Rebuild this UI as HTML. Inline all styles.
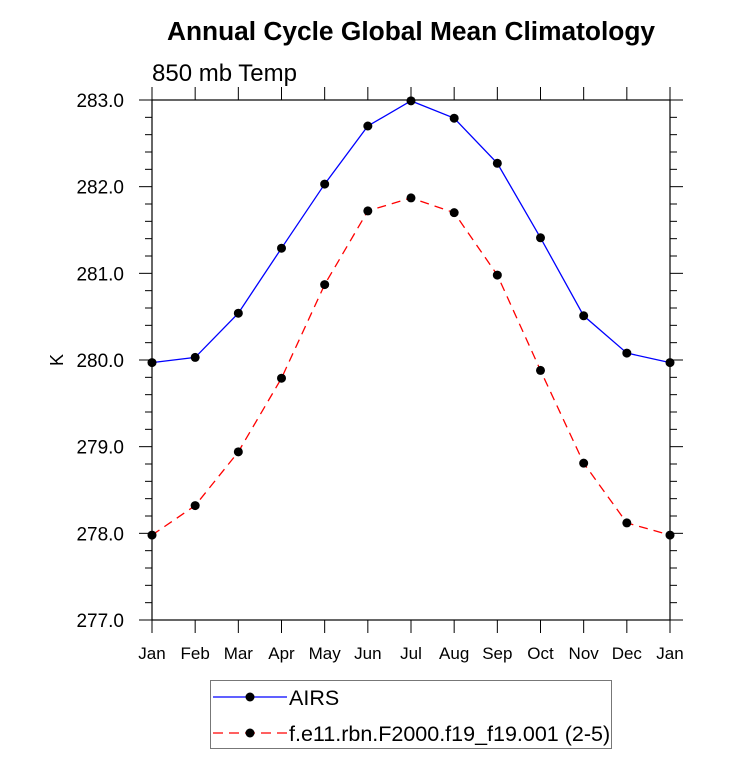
<!DOCTYPE html>
<html><head><meta charset="utf-8"><style>
body{margin:0;background:#fff;}
svg{display:block;font-family:"Liberation Sans",Arial,sans-serif;}
</style></head><body>
<svg id="chart" width="733" height="770">
<text x="411" y="40" font-size="26.3" font-weight="bold" text-anchor="middle">Annual Cycle Global Mean Climatology</text>
<text x="152" y="81" font-size="24">850 mb Temp</text>
<text transform="translate(63,360) rotate(-90)" font-size="18" text-anchor="middle">K</text>
<g id="axes"></g>
<g id="series"></g>
<g>
<rect x="210.5" y="680.5" width="401" height="68" fill="none" stroke="#777"/>
<g>
<line x1="213" y1="697" x2="287" y2="697" stroke="#0000ff" stroke-width="1.3"/>
<circle cx="250" cy="697" r="4.5" fill="#000"/>
<text x="289" y="705" font-size="21.5">AIRS</text></g>
<g>
<line x1="213" y1="733" x2="287" y2="733" stroke="#ff0000" stroke-width="1.3" stroke-dasharray="10,6"/>
<circle cx="250" cy="733" r="4.5" fill="#000"/>
<text x="289" y="741" font-size="21.5">f.e11.rbn.F2000.f19_f19.001 (2-5)</text></g>
</g>
</svg>
<script>
const months=["Jan","Feb","Mar","Apr","May","Jun","Jul","Aug","Sep","Oct","Nov","Dec","Jan"];
const airs=[279.97,280.03,280.54,281.29,282.03,282.70,282.99,282.79,282.27,281.41,280.51,280.08,279.97];
const model=[277.98,278.32,278.94,279.79,280.87,281.72,281.87,281.70,280.98,279.88,278.81,278.12,277.98];
const yTicks=["277.0","278.0","279.0","280.0","281.0","282.0","283.0"];
const X0=152,X1=670,Y0=620,Y1=100,YMIN=277,YMAX=283;
const xs=i=>X0+(X1-X0)*i/(months.length-1);
const ys=v=>Y0-(v-YMIN)/(YMAX-YMIN)*(Y0-Y1);
const NS="http://www.w3.org/2000/svg";
function mk(tag,attrs,parent){const e=document.createElementNS(NS,tag);for(const k in attrs)e.setAttribute(k,attrs[k]);parent.appendChild(e);return e;}
const ax=document.getElementById('axes');
const frame=mk('rect',{x:X0,y:Y1,width:X1-X0,height:Y0-Y1,fill:'none',stroke:'#000','stroke-width':1.2},ax);


for(let i=0;i<months.length;i++){
  const x=xs(i);
  mk('line',{x1:x,y1:Y0,x2:x,y2:Y0+13,stroke:'#000'},ax);
  mk('line',{x1:x,y1:Y1,x2:x,y2:Y1-13,stroke:'#000'},ax);
  const t=mk('text',{x:x,y:Y0+39,'font-size':17,'text-anchor':'middle'},ax);
  t.textContent=months[i];
  
  
}
for(let v=YMIN;v<=YMAX+1e-6;v+=0.2){
  const y=ys(v);const major=Math.abs(v-Math.round(v))<1e-6;const L=major?13:7;
  mk('line',{x1:X0,y1:y,x2:X0-L,y2:y,stroke:'#000'},ax);
  mk('line',{x1:X1,y1:y,x2:X1+L,y2:y,stroke:'#000'},ax);
}
yTicks.forEach(s=>{
  const t=mk('text',{x:X0-28,y:ys(parseFloat(s))+7,'font-size':19,'text-anchor':'end'},ax);
  t.textContent=s;
  
  
});
const sg=document.getElementById('series');
function draw(vals,color,dash,name){
  const g=mk('g',{},sg);
  
  
  const pts=vals.map((v,i)=>xs(i)+','+ys(v)).join(' ');
  const pl=mk('polyline',{points:pts,fill:'none',stroke:color,'stroke-width':1.3,'stroke-dasharray':dash},g);
  
  
  vals.forEach((v,i)=>{
    const c=mk('circle',{cx:xs(i),cy:ys(v),r:4.5,fill:'#000'},g);
    
    
  });
}
draw(airs,'#0000ff','none','airs-series');
draw(model,'#ff0000','9,6','model-series');
</script>
</body></html>
